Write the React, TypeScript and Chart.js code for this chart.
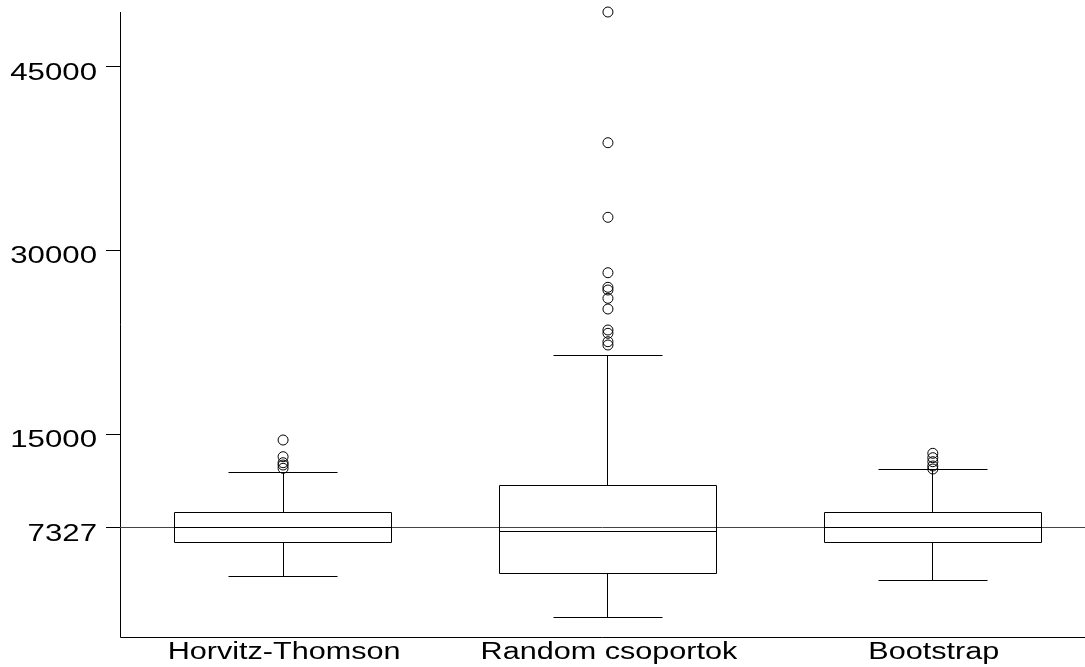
import React, { useEffect, useRef } from "react";
import { Chart, registerables } from "chart.js";

Chart.register(...registerables);

const categories = ["Horvitz-Thomson", "Random csoportok", "Bootstrap"];
const whiskerLow = [3327, -20, 3057];
const quartile1 = [6184, 3653, 6184];
const medians = [7384, 7024, 7384];
const quartile3 = [8608, 10780, 8608];
const whiskerHigh = [11898, 21449, 12086];
const outliersHT = [14510, 13147, 12657, 12469, 12200];
const outliersRandom = [49449, 38780, 32690, 28167, 26976, 26755, 26078, 25204, 23490, 23220, 22535, 22265];
const outliersBootstrap = [13424, 13065, 12739, 12388, 12143];
const referenceValue = 7327;
const yTicks = [7327, 15000, 30000, 45000];

const BOX_HALF = 0.334;
const CAP_HALF = 0.168;
const STRETCH = 1.33;
const FONT = '"Liberation Sans", Arial, sans-serif';

const crisp = (v: number) => Math.round(v - 0.5) + 0.5;

function stretchedText(ctx: CanvasRenderingContext2D, text: string, x: number, y: number, align: CanvasTextAlign, sx: number) {
  ctx.save();
  ctx.translate(x, y);
  ctx.scale(sx, 1);
  ctx.textAlign = align;
  ctx.textBaseline = "alphabetic";
  ctx.fillText(text, 0, 0);
  ctx.restore();
}

const boxPlugin = {
  id: "boxPlugin",
  beforeDatasetsDraw(chart: any) {
    const ctx: CanvasRenderingContext2D = chart.ctx;
    const xs = chart.scales.x;
    const ys = chart.scales.y;
    const area = chart.chartArea;
    ctx.save();
    ctx.lineWidth = 1;
    ctx.strokeStyle = "#000";
    ctx.beginPath();
    ctx.moveTo(crisp(area.left), area.top);
    ctx.lineTo(crisp(area.left), crisp(area.bottom));
    ctx.lineTo(chart.width, crisp(area.bottom));
    ctx.stroke();
    yTicks.forEach((t) => {
      const py = crisp(ys.getPixelForValue(t));
      ctx.beginPath();
      ctx.moveTo(area.left - 14, py);
      ctx.lineTo(area.left, py);
      ctx.stroke();
    });
    ctx.strokeStyle = "#444";
    const ry = crisp(ys.getPixelForValue(referenceValue));
    ctx.beginPath();
    ctx.moveTo(area.left, ry);
    ctx.lineTo(chart.width, ry);
    ctx.stroke();
    ctx.strokeStyle = "#000";
    categories.forEach((_, i) => {
      const c = i + 1;
      const xl = crisp(xs.getPixelForValue(c - BOX_HALF));
      const xr = crisp(xs.getPixelForValue(c + BOX_HALF));
      const xc = crisp(xs.getPixelForValue(c));
      const cl = crisp(xs.getPixelForValue(c - CAP_HALF));
      const cr = crisp(xs.getPixelForValue(c + CAP_HALF));
      const yq1 = crisp(ys.getPixelForValue(quartile1[i]));
      const yq3 = crisp(ys.getPixelForValue(quartile3[i]));
      const ym = crisp(ys.getPixelForValue(medians[i]));
      const ylo = crisp(ys.getPixelForValue(whiskerLow[i]));
      const yhi = crisp(ys.getPixelForValue(whiskerHigh[i]));
      ctx.beginPath();
      ctx.rect(xl, yq3, xr - xl, yq1 - yq3);
      ctx.moveTo(xl, ym);
      ctx.lineTo(xr, ym);
      ctx.moveTo(xc, yq3);
      ctx.lineTo(xc, yhi);
      ctx.moveTo(cl, yhi);
      ctx.lineTo(cr, yhi);
      ctx.moveTo(xc, yq1);
      ctx.lineTo(xc, ylo);
      ctx.moveTo(cl, ylo);
      ctx.lineTo(cr, ylo);
      ctx.stroke();
    });
    ctx.restore();
  },
  afterDraw(chart: any) {
    const ctx: CanvasRenderingContext2D = chart.ctx;
    const xs = chart.scales.x;
    const ys = chart.scales.y;
    const area = chart.chartArea;
    ctx.save();
    ctx.fillStyle = "#000";
    ctx.font = `24px ${FONT}`;
    yTicks.forEach((t) => {
      const py = ys.getPixelForValue(t);
      stretchedText(ctx, String(t), area.left - 23, py + 13, "right", 1.3);
    });
    ctx.font = `23px ${FONT}`;
    categories.forEach((label, i) => {
      const px = xs.getPixelForValue(i + 1);
      stretchedText(ctx, label, px + 1, area.bottom + 21, "center", STRETCH);
    });
    ctx.restore();
  },
};

export default function App() {
  const ref = useRef<HTMLCanvasElement | null>(null);
  useEffect(() => {
    if (!ref.current) return;
    const mk = (vals: number[], c: number) => vals.map((v) => ({ x: c, y: v }));
    const chart = new Chart(ref.current, {
      type: "scatter",
      data: {
        datasets: [
          { label: categories[0], data: mk(outliersHT, 1) },
          { label: categories[1], data: mk(outliersRandom, 2) },
          { label: categories[2], data: mk(outliersBootstrap, 3) },
        ].map((d) => ({
          ...d,
          pointRadius: 5,
          pointBorderWidth: 1,
          pointBorderColor: "#000",
          pointBackgroundColor: "rgba(0,0,0,0)",
          clip: false as any,
        })),
      },
      options: {
        animation: false,
        responsive: true,
        maintainAspectRatio: false,
        layout: { padding: { left: 120, top: 12, right: 0, bottom: 29.5 } },
        plugins: { legend: { display: false }, tooltip: { enabled: false } },
        scales: {
          x: { type: "linear", display: false, min: 0.498, max: 3.45 },
          y: { type: "linear", display: false, min: -1612, max: 49450 },
        },
      },
      plugins: [boxPlugin],
    });
    return () => chart.destroy();
  }, []);
  return (
    <div style={{ position: "fixed", left: 0, top: 0, width: 1085, height: 667, background: "#fff" }}>
      <canvas ref={ref} />
    </div>
  );
}
